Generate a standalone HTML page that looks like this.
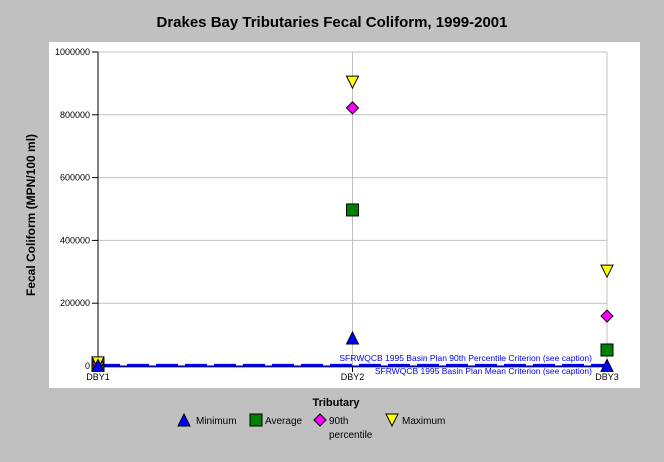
<!DOCTYPE html>
<html><head><meta charset="utf-8"><style>
body{margin:0;width:664px;height:457px;background:#c0c0c0;font-family:"Liberation Sans",sans-serif;overflow:hidden}
</style></head><body>
<svg width="664" height="457" xmlns="http://www.w3.org/2000/svg" font-family="Liberation Sans, sans-serif" id="chart">
<text x="332" y="27" text-anchor="middle" font-size="15" font-weight="bold">Drakes Bay Tributaries Fecal Coliform, 1999-2001</text>
<rect x="49" y="42" width="591" height="346" fill="#fff"/>
<g id="grid"></g>
<g id="axes"></g>
<g id="marks"></g>
<text transform="translate(35,215) rotate(-90)" text-anchor="middle" font-size="12" font-weight="bold">Fecal Coliform (MPN/100 ml)</text>
<text x="336" y="406" text-anchor="middle" font-size="11" font-weight="bold">Tributary</text>
<g font-size="10">
<g><polygon points="184,414 190,426 178,426" fill="#0000ff" stroke="#000"/><text x="196" y="424">Minimum</text></g>
<g><rect x="250" y="414" width="12" height="12" fill="#008000" stroke="#000"/><text x="265" y="424">Average</text></g>
<g><polygon points="320,414 326,420 320,426 314,420" fill="#ff00ff" stroke="#000"/><text x="329" y="424">90th</text><text x="329" y="438">percentile</text></g>
<g><polygon points="386,414 398,414 392,426" fill="#ffff00" stroke="#000"/><text x="402" y="424">Maximum</text></g>
</g>
</svg>
<script>
const categories=["DBY1","DBY2","DBY3"];
const minimum=[2000,89000,2000];
const average=[5000,497000,51000];
const p90=[8000,822000,159000];
const maximum=[10000,904000,302000];
const yTicks=[0,200000,400000,600000,800000,1000000];
const crit90=400, critMean=200;
const NS="http://www.w3.org/2000/svg";
const x0=98,x1=607,yb=366,yt=52;
const X=i=>x0+i*(x1-x0)/(categories.length-1);
const Y=v=>yb-(v/1000000)*(yb-yt);
function mk(t,a,p){const e=document.createElementNS(NS,t);for(const k in a)e.setAttribute(k,a[k]);p.appendChild(e);return e;}
const grid=document.getElementById('grid'),axes=document.getElementById('axes'),marks=document.getElementById('marks');
yTicks.forEach(v=>{if(v>0){const l=mk('line',{x1:x0,x2:x1,y1:Y(v),y2:Y(v),stroke:'#c0c0c0'},grid);

}
const tk=mk('line',{x1:x0-6,x2:x0,y1:Y(v),y2:Y(v),stroke:'#000'},axes);


const t=mk('text',{x:x0-8,y:Y(v)+3,'text-anchor':'end','font-size':9},axes);t.textContent=v;

});
categories.forEach((c,i)=>{if(i>0){const l=mk('line',{x1:X(i),x2:X(i),y1:yt,y2:yb,stroke:'#c0c0c0'},grid);

}
const tk=mk('line',{x1:X(i),x2:X(i),y1:yb,y2:yb+6,stroke:'#000'},axes);


const t=mk('text',{x:X(i),y:yb+14,'text-anchor':'middle','font-size':9},axes);t.textContent=c;

});
let a=mk('line',{x1:x0,x2:x0,y1:yt,y2:yb,stroke:'#000'},axes);


a=mk('line',{x1:x0,x2:x1,y1:yb,y2:yb,stroke:'#000'},axes);


let c=mk('line',{x1:x0,x2:x1,y1:Y(crit90)-1,y2:Y(crit90)-1,stroke:'#0000ff','stroke-width':2,'stroke-dasharray':'22,7'},marks);


c=mk('line',{x1:x0,x2:x1,y1:Y(critMean)+1,y2:Y(critMean)+1,stroke:'#0000ff','stroke-width':1},marks);


let t=mk('text',{x:592,y:Y(crit90)-5,'text-anchor':'end','font-size':8.5,fill:'#0000ff'},marks);t.textContent='SFRWQCB 1995 Basin Plan 90th Percentile Criterion (see caption)';


t=mk('text',{x:592,y:Y(critMean)+8,'text-anchor':'end','font-size':8.5,fill:'#0000ff'},marks);t.textContent='SFRWQCB 1995 Basin Plan Mean Criterion (see caption)';


categories.forEach((cat,i)=>{const x=X(i);
let y=Y(average[i]);let e=mk('rect',{x:x-6,y:y-6,width:12,height:12,fill:'#008000',stroke:'#000'},marks);


y=Y(p90[i]);e=mk('polygon',{points:`${x},${y-6} ${x+6},${y} ${x},${y+6} ${x-6},${y}`,fill:'#ff00ff',stroke:'#000'},marks);


y=Y(maximum[i]);e=mk('polygon',{points:`${x-6},${y-6} ${x+6},${y-6} ${x},${y+6}`,fill:'#ffff00',stroke:'#000'},marks);


y=Y(minimum[i]);e=mk('polygon',{points:`${x},${y-6} ${x+6},${y+6} ${x-6},${y+6}`,fill:'#0000ff',stroke:'#000'},marks);

});
</script>
</body></html>
